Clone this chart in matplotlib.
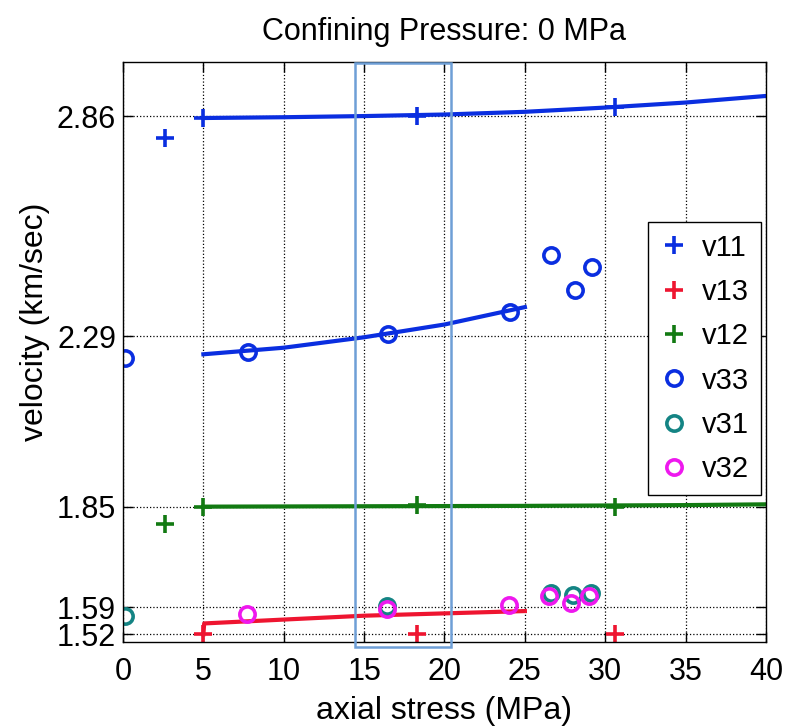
import matplotlib
matplotlib.use('Agg')
import matplotlib.pyplot as plt
from matplotlib.patches import Rectangle
import numpy as np

plt.rcParams['font.family'] = ['Liberation Sans', 'DejaVu Sans']

# measured points (axial stress MPa, velocity km/sec)
v11_x = [2.6, 5.0, 18.3, 30.6]
v11_y = [2.803, 2.855, 2.860, 2.883]
v13_x = [5.0, 18.3, 30.6]
v13_y = [1.520, 1.520, 1.521]
v12_x = [2.6, 5.0, 18.3, 30.6]
v12_y = [1.806, 1.850, 1.855, 1.850]
v33_x = [0.1, 7.8, 16.5, 24.1, 26.6, 28.1, 29.2]
v33_y = [2.234, 2.250, 2.296, 2.353, 2.500, 2.410, 2.470]
v31_x = [0.1, 16.4, 26.6, 28.0, 29.1]
v31_y = [1.567, 1.593, 1.628, 1.621, 1.626]
v32_x = [7.7, 16.4, 24.0, 26.5, 27.9, 29.0]
v32_y = [1.573, 1.586, 1.595, 1.620, 1.602, 1.618]

# fitted curves
v11_fit_x = [5, 10, 15, 20, 25, 30, 35, 40]
v11_fit_y = [2.855, 2.857, 2.860, 2.864, 2.871, 2.882, 2.895, 2.912]
v12_fit_x = [5, 15, 25, 35, 40]
v12_fit_y = [1.850, 1.851, 1.852, 1.854, 1.856]
v13_fit_x = [5, 5.05, 10, 15, 20, 25]
v13_fit_y = [1.520, 1.548, 1.558, 1.568, 1.574, 1.580]
v33_fit_x = [5, 10, 15, 20, 25]
v33_fit_y = [2.244, 2.261, 2.288, 2.321, 2.366]

ytick_vals = [1.52, 1.59, 1.85, 2.29, 2.86]
xtick_vals = [0, 5, 10, 15, 20, 25, 30, 35, 40]
highlight_x = [14.45, 20.4]

c_blue = '#0a2ee0'
c_red = '#ee1530'
c_green = '#127a12'
c_teal = '#148484'
c_mag = '#ee18ee'

fig = plt.figure(figsize=(7.87, 7.26), dpi=100)
ax = fig.add_axes([0.1563, 0.1157, 0.817, 0.799])

# fit lines
ax.plot(v11_fit_x, v11_fit_y, color=c_blue, lw=3)
ax.plot(v12_fit_x, v12_fit_y, color=c_green, lw=3)
ax.plot(v13_fit_x, v13_fit_y, color=c_red, lw=3)
ax.plot(v33_fit_x, v33_fit_y, color=c_blue, lw=3)

pk = dict(linestyle='none', marker='+', markersize=13, markeredgewidth=2.6)
ok = dict(linestyle='none', marker='o', markersize=11, markeredgewidth=2.6,
          markerfacecolor='none')
ax.plot(v11_x, v11_y, color=c_blue, label='v11', **pk)
ax.plot(v13_x, v13_y, color=c_red, label='v13', **pk)
ax.plot(v12_x, v12_y, color=c_green, label='v12', **pk)
ax.plot(v33_x, v33_y, color=c_blue, label='v33', **ok)
ax.plot(v31_x, v31_y, color=c_teal, label='v31', **ok)
ax.plot(v32_x, v32_y, color=c_mag, label='v32', **ok)

ax.set_xlim(0, 40)
ax.set_ylim(1.5, 3.0)
ax.set_xticks(xtick_vals)
ax.set_yticks(ytick_vals)
ax.set_yticklabels(['%.2f' % v for v in ytick_vals])
ax.tick_params(direction='in', length=7, width=1, labelsize=22,
               top=True, right=True)
ax.tick_params(axis='x', pad=11)
ax.tick_params(axis='y', pad=5)
ax.grid(True, linestyle=':', color='black', lw=0.9)
for s in ax.spines.values():
    s.set_linewidth(1.0)

ax.set_title('Confining Pressure: 0 MPa', fontsize=22, pad=16)
ax.set_xlabel('axial stress (MPa)', fontsize=23, labelpad=6)
ax.set_ylabel('velocity (km/sec)', fontsize=23)
ax.yaxis.set_label_coords(-0.113, 0.552)

leg = ax.legend(loc='upper right', bbox_to_anchor=(0.992, 0.724),
                borderaxespad=0, fontsize=21, fancybox=False, framealpha=1,
                edgecolor='black', handlelength=1.0, handletextpad=0.45,
                labelspacing=0.56, borderpad=0.4, numpoints=1)
leg.get_frame().set_linewidth(1.0)

# highlight box
rect = Rectangle((highlight_x[0], -0.008), highlight_x[1] - highlight_x[0], 1.006,
                 transform=ax.get_xaxis_transform(), fill=False,
                 edgecolor='#6e9fd6', lw=1.8, clip_on=False, zorder=5)
ax.add_patch(rect)

fig.savefig('out.png', dpi=100)
